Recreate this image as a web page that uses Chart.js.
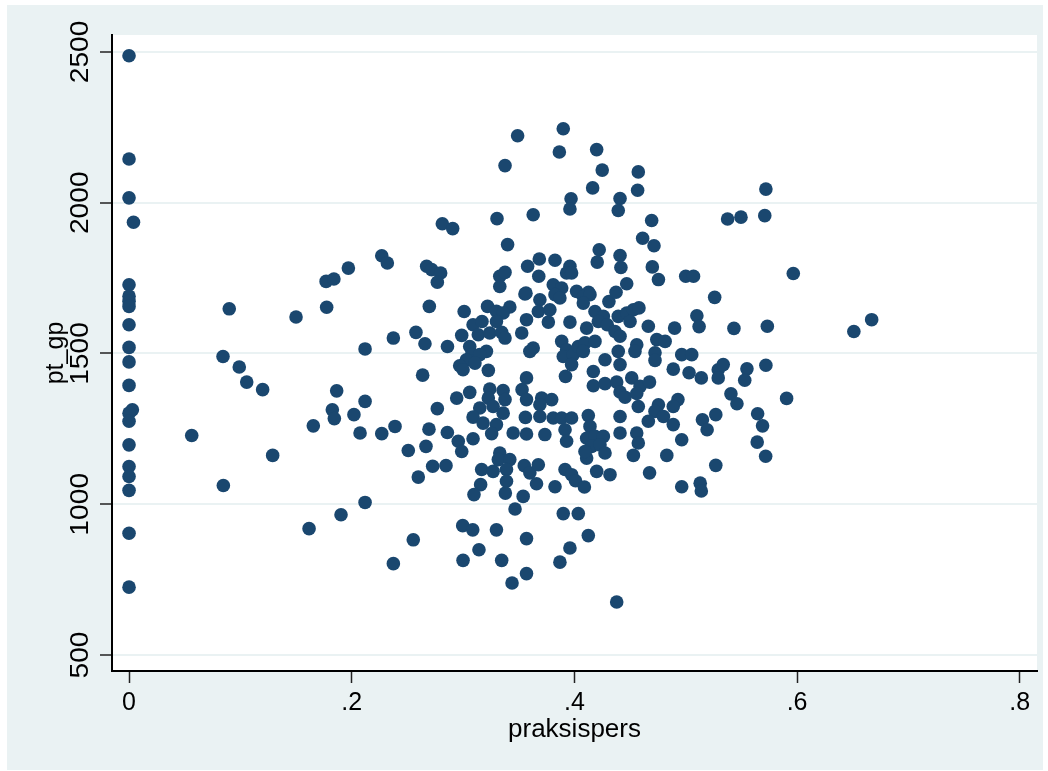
<!DOCTYPE html>
<html>
<head>
<meta charset="utf-8">
<script src="https://cdn.jsdelivr.net/npm/chart.js@4.4.1/dist/chart.umd.min.js"></script>
<style>
html,body{margin:0;padding:0;background:#ffffff;}
canvas{display:block;}
</style>
</head>
<body>
<canvas id="c" width="1048" height="771"></canvas>
<script>
// ---- data (praksispers, pt_gp) ----
const xValues = [
0,0,0,0.004,0,0,0,0,0,0,0,0,0.003,0,0,0,0,0,0,0,0,
.090,.150,.1775,.177,.184,.197,.0844,.099,.1057,.120,.1865,.1826,.1844,.202,.1655,.0563,.129,.2075,.0847,.1617,.1904,.212,
.349,.3377,.3305,.2814,.2907,.227,.232,.340,.2673,.2718,.2799,.2769,.333,.3377,.333,.358,.3556,.363,
.2697,.301,.322,.330,.342,.336,.330,.309,.317,.357,.2374,.2577,.2658,.286,.2988,.3137,.324,.3347,.3377,.3527,
.212,.306,.3078,.321,.315,.303,.297,.300,.3107,.3227,.357,.2637,.212,.227,.2389,.2769,.2943,.306,.324,.336,
.3227,.3377,.315,.327,.336,.309,.318,.330,.3257,.353,.357,.356,.345,.357,.2694,.2859,.2667,.2508,.2957,.2988,
.309,.2727,.2847,.2598,.3167,.327,.333,.3317,.342,.339,.355,.36,.3158,.339,
.3098,.338,.354,.3467,.2997,.3087,.330,.2553,.2374,.300,.3143,.3347,.344,.357,.357,
.390,.3865,.420,.425,.4574,.4164,.4568,.397,.396,.441,.4394,.4694,.4613,.4715,.4223,.4205,.441,.4418,.470,.4755,
.3685,.368,.3826,.396,.393,.3975,.447,.500,.507,.3565,.369,.381,.3886,.3826,.387,.402,.4127,.408,.414,.408,.431,.4374,
.3676,.378,.3766,.396,.411,.4185,.426,.4215,.4295,.4365,.441,.4394,.447,.453,.458,.450,.4664,.490,.510,.512,
.3886,.393,.390,.399,.4035,.4095,.4185,.408,.3975,.363,.360,.4394,.441,.4275,.417,.392,.456,.4544,.474,.4815,
.4724,.4724,.4964,.5054,.4888,.503,.417,.4275,.438,.441,.4455,.4515,.459,.4675,.456,.3706,.3796,.369,.4574,.4755,
.4724,.480,.493,.4888,.369,.381,.3886,.3975,.4125,.441,.4664,.4888,.515,.3735,.3916,.393,.414,.411,.4185,.426,
.4155,.423,.4275,.411,.4095,.441,.456,.4574,.453,.483,.4964,.3676,.366,.3916,.3975,.401,.409,.420,.432,.3826,
.4675,.4964,.513,
.390,.4035,.4125,.396,.387,.438,.514,
.572,.5376,.5496,.571,.5966,.526,.5433,.5733,.651,.667,.514,.5292,.5337,.5292,.555,.553,.572,.5406,.546,.5906,
.5192,.527,.5646,.569,.5642,.5718,.527
];
const yValues = [
2487,2145,2016,1935,1728,1690,1673,1656,1595,1520,1472,1394,1313,1302,1275,1197,1125,1092,1046,904,725,
1648,1621,1653,1739,1747,1783,1490,1455,1405,1380,1376,1313,1284,1297,1260,1228,1162,1236,1062,919,965,1006,
2222,2123,1947,1930,1914,1824,1800,1861,1789,1778,1767,1736,1756,1769,1722,1789,1697,1960,
1656,1639,1656,1640,1654,1634,1606,1595,1606,1612,1551,1570,1532,1523,1560,1562,1568,1570,1551,1568,
1515,1523,1496,1507,1496,1479,1459,1446,1468,1444,1419,1428,1341,1234,1258,1317,1352,1371,1382,1377,
1352,1347,1319,1324,1302,1289,1269,1264,1234,1380,1347,1288,1236,1233,1249,1238,1192,1178,1209,1175,
1217,1126,1128,1090,1115,1109,1170,1148,1148,1115,1128,1104,1065,1076,
1032,1037,1026,984,929,915,915,882,803,814,849,814,739,770,886,
2245,2168,2176,2108,2102,2049,2041,2013,1979,2014,1974,1941,1882,1857,1844,1803,1825,1785,1787,1745,
1813,1756,1809,1789,1767,1767,1731,1756,1756,1700,1678,1728,1717,1695,1684,1706,1703,1689,1695,1667,1672,1703,
1639,1645,1604,1604,1584,1639,1623,1606,1595,1573,1557,1623,1634,1645,1651,1606,1590,1584,1625,1589,
1540,1512,1490,1496,1523,1535,1540,1507,1463,1518,1507,1507,1463,1479,1440,1424,1529,1507,1546,1540,
1502,1477,1496,1496,1448,1436,1393,1400,1405,1372,1355,1419,1391,1405,1367,1352,1347,1330,1324,1330,
1308,1291,1347,1324,1291,1286,1286,1286,1294,1291,1275,1264,1280,1231,1247,1209,1258,1219,1225,1225,
1192,1197,1170,1153,1175,1236,1236,1203,1162,1162,1214,1131,1068,1115,1098,1078,1057,1109,1098,1058,
1104,1058,1070,
969,969,896,855,808,676,1044,
2045,1946,1952,1957,1765,1686,1583,1590,1573,1612,1419,1446,1463,1419,1449,1411,1461,1366,1333,1351,
1247,1297,1300,1260,1206,1159,1129
];
const xTickValues = [0, 0.2, 0.4, 0.6, 0.8];
const xTickLabels = ["0", ".2", ".4", ".6", ".8"];
const yTickValues = [500, 1000, 1500, 2000, 2500];
const yTickLabels = ["500", "1000", "1500", "2000", "2500"];
const xTitle = "praksispers";
const yTitle = "pt_gp";

const points = xValues.map((x, i) => ({x: x, y: yValues[i]}));

const FONT = '"Liberation Sans", Arial, Helvetica, sans-serif';
const BG = '#eaf2f3';
const NAVY = '#1a476f';

const bgPlugin = {
  id: 'bg',
  beforeDraw(chart) {
    const ctx = chart.ctx, a = chart.chartArea;
    ctx.save();
    ctx.fillStyle = '#ffffff';
    ctx.fillRect(0, 0, chart.width, chart.height);
    ctx.fillStyle = BG;
    ctx.fillRect(7, 5, 1036, 765);
    ctx.fillStyle = '#ffffff';
    ctx.fillRect(a.left, a.top, a.right - a.left, a.bottom - a.top);
    ctx.restore();
  },
  afterDraw(chart) {
    const ctx = chart.ctx, ys = chart.scales.y;
    ctx.save();
    ctx.fillStyle = '#000000';
    ctx.font = '25px ' + FONT;
    ctx.textAlign = 'center';
    ctx.textBaseline = 'middle';
    yTickValues.forEach((v, i) => {
      const py = ys.getPixelForValue(v);
      ctx.save();
      ctx.translate(81, py);
      ctx.rotate(-Math.PI / 2);
      ctx.scale(1.13, 1);
      ctx.fillText(yTickLabels[i], 0, 0);
      ctx.restore();
    });
    ctx.restore();
  }
};

new Chart(document.getElementById('c'), {
  type: 'scatter',
  data: {
    datasets: [{
      data: points,
      pointRadius: 6.8,
      pointHoverRadius: 6.8,
      backgroundColor: NAVY,
      borderColor: NAVY,
      borderWidth: 0
    }]
  },
  options: {
    responsive: false,
    animation: false,
    devicePixelRatio: 1,
    layout: {padding: {left: 0, top: 35, right: 11, bottom: 0}},
    plugins: {legend: {display: false}, tooltip: {enabled: false}},
    scales: {
      x: {
        type: 'linear',
        min: -0.0153,
        max: 0.8155,
        afterBuildTicks: (s) => { s.ticks = xTickValues.map(v => ({value: v})); },
        afterFit: (s) => { s.height = 100; },
        ticks: {
          callback: (v, i) => xTickLabels[i],
          font: {family: FONT, size: 25},
          color: '#000000',
          padding: 5,
          maxRotation: 0,
          autoSkip: false
        },
        grid: {drawOnChartArea: false, drawTicks: true, tickLength: 12, tickColor: '#222222', tickWidth: 1.5},
        border: {display: true, color: '#000000', width: 2},
        title: {display: true, text: xTitle, color: '#000000', font: {family: FONT, size: 26}, padding: {top: 0, bottom: 26}}
      },
      y: {
        type: 'linear',
        min: 447,
        max: 2556,
        afterBuildTicks: (s) => { s.ticks = yTickValues.map(v => ({value: v})); },
        afterFit: (s) => { s.width = 112; },
        ticks: {display: false},
        grid: {color: BG, lineWidth: 2, drawTicks: true, tickLength: 12, tickColor: '#222222', tickWidth: 1.5},
        border: {display: true, color: '#000000', width: 2},
        title: {display: true, text: yTitle, color: '#000000', font: {family: FONT, size: 25}, padding: {top: 41, bottom: 0}}
      }
    }
  },
  plugins: [bgPlugin]
});
</script>
</body>
</html>
